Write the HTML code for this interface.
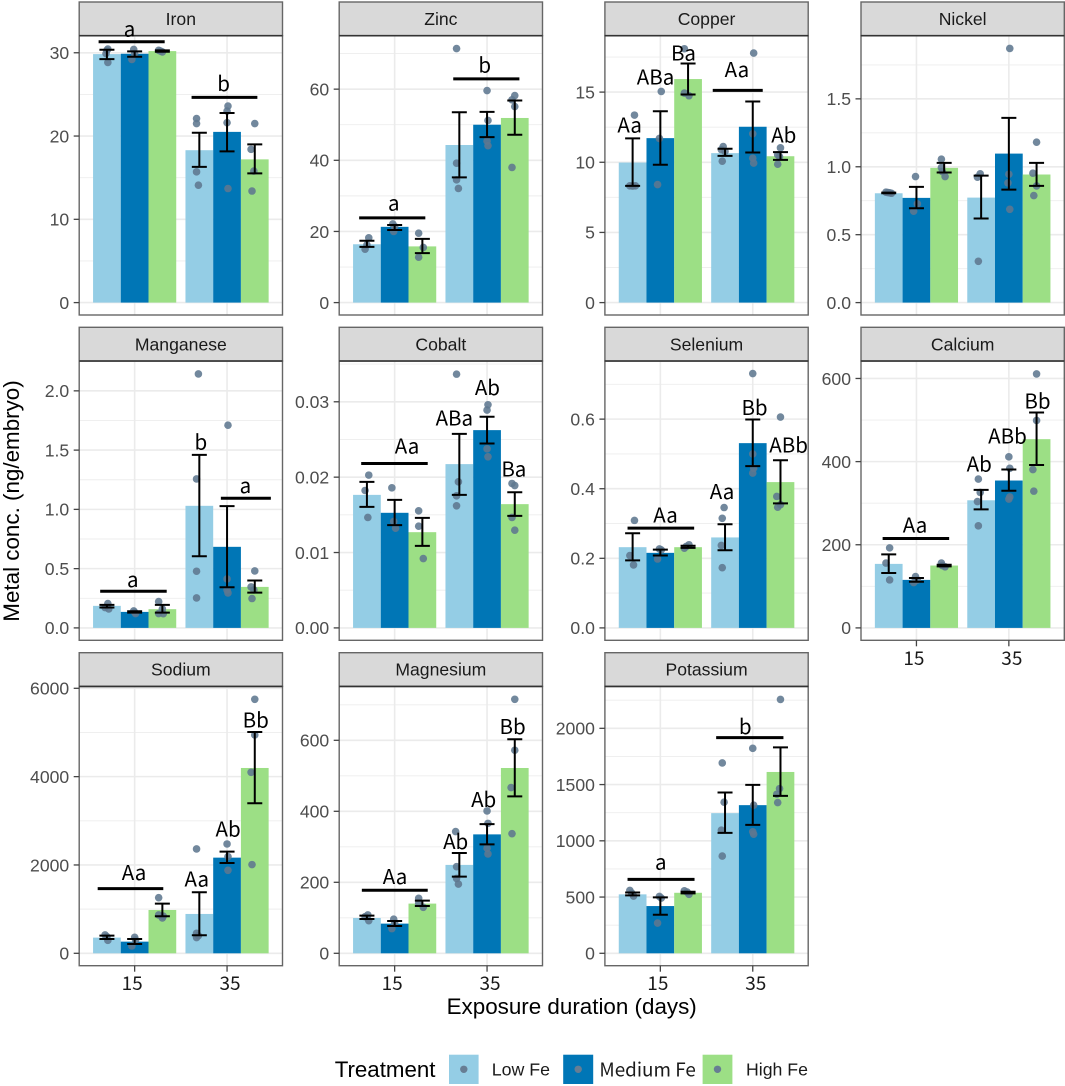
<!DOCTYPE html>
<html lang="en">
<head>
<meta charset="utf-8">
<title>Metal concentration per embryo by exposure duration and iron treatment</title>
<style>
html,body{margin:0;padding:0;background:#fff;}
svg{display:block;}
text{font-family:"Liberation Sans",sans-serif;}
.hum{font-family:"Noto Sans CJK JP","Liberation Sans",sans-serif;}
</style>
</head>
<body>
<svg id="chart" xmlns="http://www.w3.org/2000/svg" width="1065" height="1086" viewBox="0 0 1065 1086">
  <text x="19" y="501" transform="rotate(-90 19 501)" text-anchor="middle" font-size="22.4" fill="#000">Metal conc. (ng/embryo)</text>
  <text x="571.7" y="1014" text-anchor="middle" font-size="22.4" fill="#000">Exposure duration (days)</text>
  <g>
    <text x="334.7" y="1077" font-size="22.3" fill="#000">Treatment</text>
    <rect x="449" y="1054.7" width="29.6" height="29.3" fill="#94cde5"/>
    <circle cx="463.8" cy="1069.3" r="3.7" fill="#677d93"/>
    <text x="491.7" y="1075.5" font-size="17.8" fill="#1a1a1a">Low Fe</text>
    <rect x="563.2" y="1054.7" width="30" height="29.3" fill="#0076b6"/>
    <circle cx="578.2" cy="1069.3" r="3.7" fill="#677d93"/>
    <text class="hum" x="599.4" y="1076.5" font-size="19" textLength="96.4" lengthAdjust="spacingAndGlyphs" fill="#1a1a1a">Medium Fe</text>
    <rect x="702.6" y="1054.7" width="29.8" height="29.3" fill="#9cdf85"/>
    <circle cx="717.5" cy="1069.3" r="3.7" fill="#677d93"/>
    <text x="746" y="1075.5" font-size="17.7" fill="#1a1a1a">High Fe</text>
  </g>
</svg>
<script>
const durations = ['15', '35'];
const treatments = ['low-fe', 'medium-fe', 'high-fe'];

const ironTicks = ['0', '10', '20', '30'];
const ironMax = 30.5;
const ironMeans = [29.84, 29.88, 30.2, 18.3, 20.5, 17.2];
const ironLower = [29.24, 29.52, 30.12, 16.3, 18.16, 15.52];
const ironUpper = [30.36, 30.16, 30.28, 20.4, 22.76, 19.0];
const ironPoints = [
  [[30.44, .01], [28.84, .01], [29.9, -.01], [30.3, 0]],
  [[30.4, -.01], [29.2, -.03], [29.9, 0]],
  [[30.3, -.04], [30.1, 0], [30.2, -.02]],
  [[22.1, -.03], [21.5, -.03], [15.7, -.03], [14.1, -.01]],
  [[23.6, .01], [23.0, 0], [21.6, 0], [13.7, .01]],
  [[21.5, 0], [18.4, -.04], [15.8, -.01], [13.4, -.03]]
];
const ironNotes = [['a', .944, 32.64], ['b', 1.963, 26.3]];
const ironRules = [[.61, 1.325, 31.32], [1.616, 2.328, 24.64]];

const zincTicks = ['0', '20', '40', '60'];
const zincMax = 71.4;
const zincMeans = [16.4, 21.3, 15.8, 44.3, 50.0, 51.9];
const zincLower = [15.65, 20.4, 13.9, 35.2, 46.5, 47.2];
const zincUpper = [17.4, 21.8, 17.9, 53.5, 53.6, 56.8];
const zincPoints = [
  [[18.2, .02], [15, -.02], [16.2, 0]],
  [[22.1, -.02], [20, -.01], [21.4, 0]],
  [[19.5, -.04], [15.5, .01], [12.75, -.04]],
  [[71.4, -.03], [39.2, -.03], [34.5, -.03], [32.1, -.01]],
  [[59.6, 0], [51.2, .01], [45.4, 0], [44.1, .01]],
  [[58.2, 0], [57, -.03], [55.1, 0], [38, -.03]]
];
const zincNotes = [['a', .99, 27.5], ['b', 1.974, 66.8]];
const zincRules = [[.616, 1.332, 23.8], [1.634, 2.35, 62.9]];

const copperTicks = ['0', '5', '10', '15'];
const copperMax = 18.1;
const copperMeans = [9.98, 11.72, 15.93, 10.65, 12.53, 10.43];
const copperLower = [8.32, 9.82, 14.83, 10.46, 10.7, 10.17];
const copperUpper = [11.7, 13.64, 17.04, 10.96, 14.33, 10.72];
const copperPoints = [
  [[13.36, .02], [8.32, -.03], [8.32, .03], [8.3, 0]],
  [[15.05, .01], [11.7, -.01], [8.41, -.03]],
  [[18.09, -.04], [14.93, -.04], [14.74, .01]],
  [[11.12, -.02], [10.9, -.04], [10.77, 0], [10.08, -.03]],
  [[17.78, .01], [12.03, 0], [10.29, 0], [9.94, .01]],
  [[11.03, 0], [10.53, -.03], [10.4, -.01], [9.86, -.03]]
];
const copperNotes = [['Aa', .668, 12.65], ['ABa', .948, 16.09], ['Ba', 1.25, 17.78], ['Aa', 1.828, 16.6], ['Ab', 2.336, 11.96]];
const copperRules = [[1.567, 2.108, 15.12]];

const nickelTicks = ['0.0', '0.5', '1.0', '1.5'];
const nickelMax = 1.87;
const nickelMeans = [.805, .771, .992, .773, 1.097, .943];
const nickelLower = [.805, .695, .958, .619, .832, .859];
const nickelUpper = [.81, .852, 1.029, .935, 1.36, 1.029];
const nickelPoints = [
  [[.813, -.03], [.808, .01], [.81, -.01], [.805, .03]],
  [[.928, -.01], [.727, .01], [.673, -.03]],
  [[1.056, -.03], [.994, -.03], [.928, .01], [.965, -.02]],
  [[.948, -.01], [.923, -.04], [.304, -.03]],
  [[1.871, .01], [.945, 0], [.881, -.01], [.687, .01]],
  [[1.181, 0], [.953, -.04], [.859, 0], [.788, -.03]]
];
const nickelNotes = [];
const nickelRules = [];

const manganeseTicks = ['0.0', '0.5', '1.0', '1.5', '2.0'];
const manganeseMax = 2.143;
const manganeseMeans = [.186, .135, .158, 1.03, .684, .346];
const manganeseLower = [.172, .129, .129, .605, .343, .298];
const manganeseUpper = [.194, .141, .194, 1.46, 1.027, .40];
const manganesePoints = [
  [[.205, .01], [.172, -.02], [.16, .02]],
  [[.143, -.01], [.121, .01], [.132, 0]],
  [[.222, -.04], [.16, 0], [.121, -.04], [.12, .01]],
  [[2.143, -.01], [1.257, -.03], [.478, -.03], [.253, -.03]],
  [[1.71, .01], [.413, 0], [.32, 0], [.295, .01]],
  [[.481, 0], [.346, -.04], [.32, -.01], [.248, -.03]]
];
const manganeseNotes = [['a', .98, .391], ['b', 1.716, 1.57], ['a', 2.198, 1.184]];
const manganeseRules = [[.627, 1.347, .309], [1.933, 2.474, 1.094]];

const cobaltTicks = ['0.00', '0.01', '0.02', '0.03'];
const cobaltMax = 0.0337;
const cobaltMeans = [.01765, .01527, .0127, .02173, .02624, .01642];
const cobaltLower = [.01606, .01363, .01088, .01765, .02447, .01487];
const cobaltUpper = [.01938, .01699, .0146, .02575, .02801, .018];
const cobaltPoints = [
  [[.02027, .02], [.01823, -.02], [.01465, .01]],
  [[.01858, -.03], [.01412, -.01], [.01323, .01]],
  [[.01553, -.04], [.0135, -.04], [.0092, .01]],
  [[.03367, -.03], [.01938, -.01], [.01752, -.03], [.0162, -.03]],
  [[.0296, .01], [.0289, 0], [.02376, 0], [.0227, .01]],
  [[.01916, -.03], [.01889, 0], [.01465, -.03], [.01296, 0]]
];
const cobaltNotes = [['Aa', 1.134, .02412], ['ABa', 1.646, .02783], ['Ab', 2.004, .0319], ['Ba', 2.29, .02106]];
const cobaltRules = [[.638, 1.358, .02181]];

const seleniumTicks = ['0.0', '0.2', '0.4', '0.6'];
const seleniumMax = 0.730;
const seleniumMeans = [.232, .2157, .232, .26, .531, .419];
const seleniumLower = [.194, .208, .23, .223, .465, .358];
const seleniumUpper = [.272, .225, .236, .298, .599, .482];
const seleniumPoints = [
  [[.309, .02], [.208, -.03], [.181, .01]],
  [[.227, -.01], [.224, .01], [.198, -.03]],
  [[.239, .01], [.229, -.04], [.234, -.02]],
  [[.346, -.01], [.315, -.03], [.237, -.04], [.173, -.03]],
  [[.731, 0], [.5, 0], [.459, .01], [.445, 0]],
  [[.606, 0], [.378, -.04], [.354, 0], [.347, -.03]]
];
const seleniumNotes = [['Aa', 1.056, .325], ['Aa', 1.668, .392], ['Bb', 2.019, .634], ['ABb', 2.388, .526]];
const seleniumRules = [[.645, 1.366, .2867]];

const calciumTicks = ['0', '200', '400', '600'];
const calciumMax = 611;
const calciumMeans = [154, 115.5, 150, 307, 354.5, 454];
const calciumLower = [132, 111, 148, 285, 330, 392];
const calciumUpper = [177, 120, 152, 332, 381, 518];
const calciumPoints = [
  [[192.5, .01], [156, -.03], [115.5, .01]],
  [[123.5, -.01], [109, -.03], [115, .01]],
  [[156, -.03], [147, .01], [150, -.02]],
  [[358, -.03], [326, -.01], [304, -.04], [245.5, -.03]],
  [[411.5, 0], [384, .01], [315, .01], [310, 0]],
  [[611, 0], [499, 0], [381, -.04], [329, -.03]]
];
const calciumNotes = [['Aa', .985, 247], ['Ab', 1.679, 394], ['ABb', 1.985, 462], ['Bb', 2.31, 546]];
const calciumRules = [[.634, 1.354, 215]];

const sodiumTicks = ['0', '2000', '4000', '6000'];
const sodiumMax = 5751;
const sodiumMeans = [355, 264, 981, 891, 2166, 4196];
const sodiumLower = [325, 211, 838, 408, 2045, 3396];
const sodiumUpper = [400, 325, 1125, 1381, 2302, 5011];
const sodiumPoints = [
  [[415, -.02], [294, .01], [377, 0]],
  [[362, 0], [166, -.03], [302, .01]],
  [[1260, -.04], [800, 0], [868, -.04], [840, .01]],
  [[2362, -.03], [453, -.03], [355, -.03], [400, -.01]],
  [[2475, 0], [2189, .01], [1879, .01]],
  [[5751, 0], [4943, 0], [4098, -.04], [2008, -.03]]
];
const sodiumNotes = [['Aa', .993, 1826], ['Aa', 1.672, 1683], ['Ab', 2.011, 2815], ['Bb', 2.31, 5283]];
const sodiumRules = [[.6, 1.31, 1464]];

const magnesiumTicks = ['0', '200', '400', '600'];
const magnesiumMax = 715.5;
const magnesiumMeans = [99.5, 83.6, 140, 249, 335, 522];
const magnesiumLower = [96.7, 77, 133.3, 216, 307, 442];
const magnesiumUpper = [106, 91, 148.4, 282.6, 364, 603];
const magnesiumPoints = [
  [[108, .01], [92, .02], [103, -.02]],
  [[96, -.01], [69.5, -.03], [84.5, 0]],
  [[155, -.04], [129.6, .01], [141, -.04]],
  [[343, -.04], [244, -.03], [211, -.03], [195, -.01]],
  [[401, 0], [366, .01], [296, 0], [280, .01]],
  [[715.5, 0], [572, 0], [467, -.04], [337, -.03]]
];
const magnesiumNotes = [['Aa', 1.004, 217], ['Ab', 1.66, 314.6], ['Ab', 1.963, 433], ['Bb', 2.276, 639]];
const magnesiumRules = [[.645, 1.358, 177.5]];

const potassiumTicks = ['0', '500', '1000', '1500', '2000'];
const potassiumMax = 2258;
const potassiumMeans = [524, 420, 538, 1246, 1317, 1612];
const potassiumLower = [515, 343, 532.5, 1071, 1142, 1399];
const potassiumUpper = [541, 497, 547, 1429, 1497, 1831];
const potassiumPoints = [
  [[559, -.03], [509, .01], [535, -.01]],
  [[506, -.01], [269, -.03], [491, .01]],
  [[556, -.04], [524, .01], [544, -.01]],
  [[1692, -.03], [1343, -.01], [1095, -.04], [864, -.03]],
  [[1822, 0], [1317, .01], [1080, 0], [1059, .01]],
  [[2257, 0], [1464, -.01], [1414, -.04], [1340, -.03]]
];
const potassiumNotes = [['a', 1.004, 796], ['b', 1.918, 2015]];
const potassiumRules = [[.645, 1.37, 657], [1.604, 2.332, 1917]];

const panels = [
  {name: 'Iron', ticks: ironTicks, max: ironMax, means: ironMeans, lower: ironLower, upper: ironUpper, points: ironPoints, notes: ironNotes, rules: ironRules},
  {name: 'Zinc', ticks: zincTicks, max: zincMax, means: zincMeans, lower: zincLower, upper: zincUpper, points: zincPoints, notes: zincNotes, rules: zincRules},
  {name: 'Copper', ticks: copperTicks, max: copperMax, means: copperMeans, lower: copperLower, upper: copperUpper, points: copperPoints, notes: copperNotes, rules: copperRules},
  {name: 'Nickel', ticks: nickelTicks, max: nickelMax, means: nickelMeans, lower: nickelLower, upper: nickelUpper, points: nickelPoints, notes: nickelNotes, rules: nickelRules},
  {name: 'Manganese', ticks: manganeseTicks, max: manganeseMax, means: manganeseMeans, lower: manganeseLower, upper: manganeseUpper, points: manganesePoints, notes: manganeseNotes, rules: manganeseRules},
  {name: 'Cobalt', ticks: cobaltTicks, max: cobaltMax, means: cobaltMeans, lower: cobaltLower, upper: cobaltUpper, points: cobaltPoints, notes: cobaltNotes, rules: cobaltRules},
  {name: 'Selenium', ticks: seleniumTicks, max: seleniumMax, means: seleniumMeans, lower: seleniumLower, upper: seleniumUpper, points: seleniumPoints, notes: seleniumNotes, rules: seleniumRules},
  {name: 'Calcium', ticks: calciumTicks, max: calciumMax, means: calciumMeans, lower: calciumLower, upper: calciumUpper, points: calciumPoints, notes: calciumNotes, rules: calciumRules},
  {name: 'Sodium', ticks: sodiumTicks, max: sodiumMax, means: sodiumMeans, lower: sodiumLower, upper: sodiumUpper, points: sodiumPoints, notes: sodiumNotes, rules: sodiumRules},
  {name: 'Magnesium', ticks: magnesiumTicks, max: magnesiumMax, means: magnesiumMeans, lower: magnesiumLower, upper: magnesiumUpper, points: magnesiumPoints, notes: magnesiumNotes, rules: magnesiumRules},
  {name: 'Potassium', ticks: potassiumTicks, max: potassiumMax, means: potassiumMeans, lower: potassiumLower, upper: potassiumUpper, points: potassiumPoints, notes: potassiumNotes, rules: potassiumRules}
];

/* layout */
const SVGNS = 'http://www.w3.org/2000/svg';
const chart = document.getElementById('chart');
const colLeft = [79.2, 339.2, 604.9, 861];
const rowTop = [2, 327.3, 652.7];
const PANEL_W = 203.3, STRIP_H = 33.7, PANEL_H = 279.3, ZERO_OFFSET = 12.4, DATA_H = 254;
const CAT_EXPAND = 0.6, CAT_SPAN = 2.2, DODGE = 0.3, BAR_W = 0.3;
const BAR_FILL = ['#94cde5', '#0076b6', '#9cdf85'];
const TICK_SHIFT = [-2.5, 3];

function add(tag, attrs, parent, text) {
  const el = document.createElementNS(SVGNS, tag);
  for (const k in attrs) el.setAttribute(k, attrs[k]);
  if (text !== undefined) el.textContent = text;
  parent.appendChild(el);
  return el;
}

panels.forEach(function (p, idx) {
  const key = p.name.toLowerCase();
  const col = idx % 4, row = Math.floor(idx / 4);
  const left = colLeft[col], stripTop = rowTop[row];
  const top = stripTop + STRIP_H, bottom = top + PANEL_H, right = left + PANEL_W;
  const zero = bottom - ZERO_OFFSET;
  const yScale = function (v) { return zero - v / p.max * DATA_H; };
  const xScale = function (c) { return left + (c - 1 + CAT_EXPAND) / CAT_SPAN * PANEL_W; };
  const hasXAxis = row === 2 || idx === 7;

  const g = add('g', {}, chart);
  
  

  /* grid */
  const nums = p.ticks.map(Number);
  const step = nums[1] - nums[0];
  for (let m = step / 2; yScale(m) > top; m += step) {
    const minor = add('line', {x1: left, x2: right, y1: yScale(m), y2: yScale(m), stroke: '#ededed', 'stroke-width': 0.9}, g);
    
    
  }
  nums.forEach(function (n) {
    const major = add('line', {x1: left, x2: right, y1: yScale(n), y2: yScale(n), stroke: '#ebebeb', 'stroke-width': 1.6}, g);
    
    
  });
  durations.forEach(function (d, i) {
    const vg = add('line', {x1: xScale(i + 1), x2: xScale(i + 1), y1: top, y2: bottom, stroke: '#ebebeb', 'stroke-width': 1.6}, g);
    
    
  });

  /* bars */
  p.means.forEach(function (v, i) {
    const group = Math.floor(i / 3), t = i % 3;
    const c = group + 1 + (t - 1) * DODGE;
    const bar = add('rect', {x: xScale(c - BAR_W / 2), width: xScale(c + BAR_W / 2) - xScale(c - BAR_W / 2), y: yScale(v), height: zero - yScale(v), fill: BAR_FILL[t]}, g);
    
    
  });

  /* points */
  p.points.forEach(function (list, i) {
    const group = Math.floor(i / 3), t = i % 3;
    const c = group + 1 + (t - 1) * DODGE;
    list.forEach(function (pt) {
      const dot = add('circle', {cx: xScale(c + pt[1]), cy: yScale(pt[0]), r: 3.8, fill: '#5f7890', 'fill-opacity': 0.88}, g);
      
      
    });
  });

  /* error bars */
  p.means.forEach(function (v, i) {
    const group = Math.floor(i / 3), t = i % 3;
    const c = group + 1 + (t - 1) * DODGE;
    const x = xScale(c), hi = yScale(p.upper[i]), lo = yScale(p.lower[i]);
    const eb = add('path', {d: 'M' + (x - 7.5) + ' ' + hi + 'H' + (x + 7.5) + 'M' + x + ' ' + hi + 'V' + lo + 'M' + (x - 7.5) + ' ' + lo + 'H' + (x + 7.5), fill: 'none', stroke: '#000', 'stroke-width': 2}, g);
    
    
  });

  /* frame */
  const frame = add('rect', {x: left, y: top, width: PANEL_W, height: PANEL_H, fill: 'none', stroke: '#666', 'stroke-width': 1.4}, g);
  
  

  /* strip */
  const strip = add('rect', {x: left, y: stripTop, width: PANEL_W, height: STRIP_H, fill: '#d9d9d9', stroke: '#666', 'stroke-width': 1.4}, g);
  
  
  const stripLine = add('line', {x1: left, x2: right, y1: top, y2: top, stroke: '#333', 'stroke-width': 1.6}, g);
  
  
  const stripText = add('text', {x: (left + right) / 2, y: stripTop + 23, 'text-anchor': 'middle', 'font-size': 17.6, fill: '#1a1a1a'}, g, p.name);
  
  

  /* y axis */
  p.ticks.forEach(function (label) {
    const y = yScale(Number(label));
    const tick = add('line', {x1: left - 5.5, x2: left, y1: y, y2: y, stroke: '#444', 'stroke-width': 1.3}, g);
    
    
    const tl = add('text', {x: left - 10, y: y + 6.3, 'text-anchor': 'end', 'font-size': 17.6, fill: '#4d4d4d'}, g, label);
    
    
  });

  /* x axis */
  if (hasXAxis) {
    durations.forEach(function (d, i) {
      const x = xScale(i + 1);
      const tick = add('line', {x1: x, x2: x, y1: bottom, y2: bottom + 6, stroke: '#444', 'stroke-width': 1.3}, g);
      
      
      const tl = add('text', {x: x + TICK_SHIFT[i], y: bottom + 24.5, 'text-anchor': 'middle', 'font-size': 19, fill: '#1a1a1a', class: 'hum'}, g, d);
      
      
    });
  }

  /* significance annotations */
  p.rules.forEach(function (r) {
    const rule = add('line', {x1: xScale(r[0]), x2: xScale(r[1]), y1: yScale(r[2]), y2: yScale(r[2]), stroke: '#000', 'stroke-width': 3}, g);
    
    
  });
  p.notes.forEach(function (n) {
    const lift = n[0] === 'a' ? 5.5 : 7.5;
    const note = add('text', {x: xScale(n[1]), y: yScale(n[2]) + lift, 'text-anchor': 'middle', 'font-size': 20.5, fill: '#000', class: 'hum'}, g, n[0]);
    
    
  });
});
</script>
</body>
</html>
